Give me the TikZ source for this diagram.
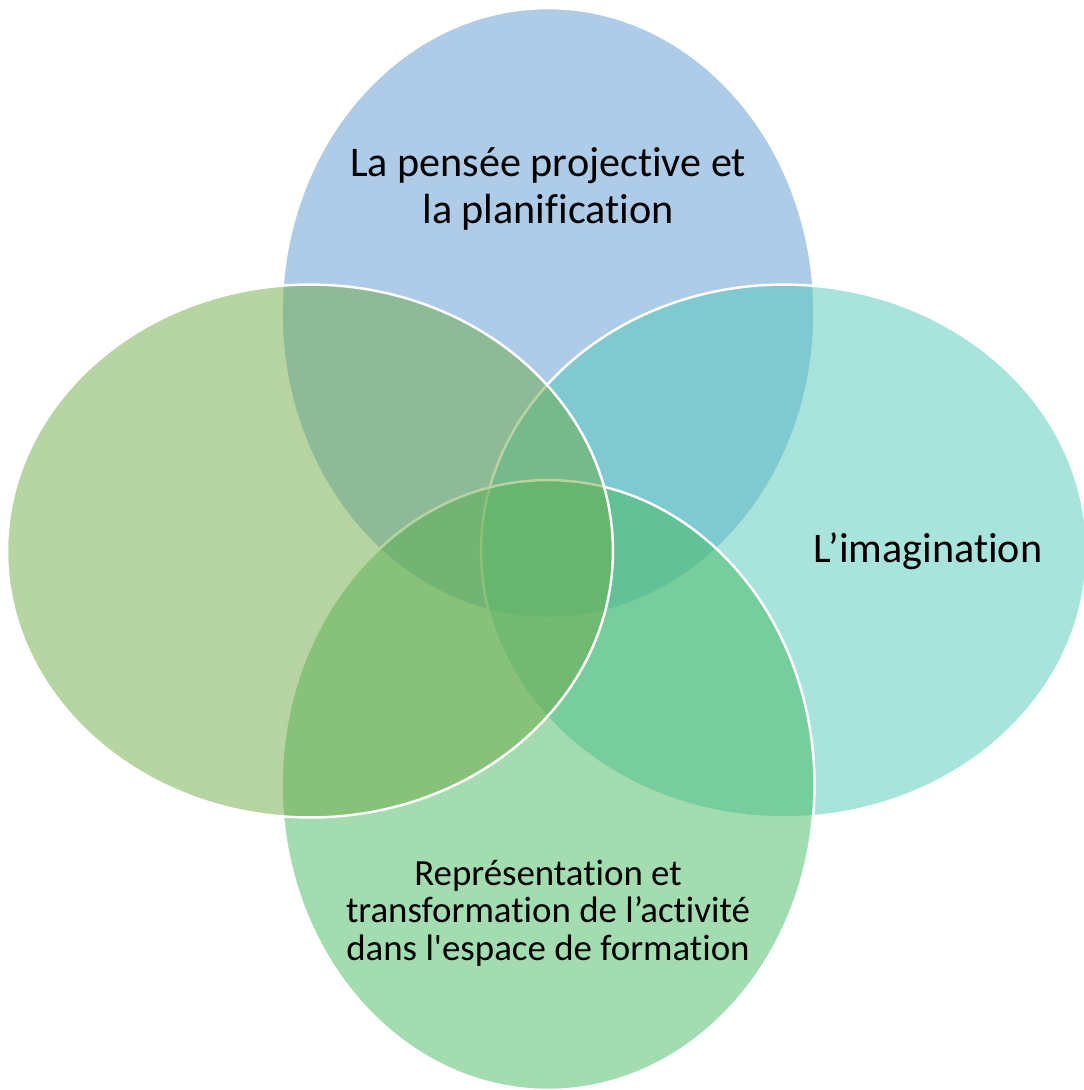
\documentclass[tikz,border=0pt]{standalone}
\usepackage{fontspec}
\setmainfont{Carlito}[Ligatures={NoCommon}]
\usepackage{tikz}
\usetikzlibrary{shapes}

\definecolor{set-blue}{HTML}{5D97D1}
\definecolor{set-teal}{HTML}{51C7B9}
\definecolor{set-green}{HTML}{47B961}
\definecolor{set-olive}{HTML}{6FA947}

\begin{document}
\begin{tikzpicture}[x=0.02cm, y=-0.02cm,
set/.style={ellipse, draw=white, line width=1.4pt, fill opacity=0.5,
    draw opacity=1, inner sep=0pt, outer sep=0pt},
set-tall/.style={set, minimum width=10.66cm, minimum height=12.2cm},
set-wide/.style={set, minimum width=12.12cm, minimum height=10.66cm},
caption/.style={align=center, text=black, font=\fontsize{24}{26.6}\selectfont},
caption-small/.style={caption, font=\fontsize{21}{21.3}\selectfont}
]

\useasboundingbox (0,0) rectangle (1084,1090);

\node [set-tall, fill=set-blue] (set-top) at (548,313) {};
\node [set-wide, fill=set-teal] (set-right) at (784,551) {};
\node [set-tall, fill=set-green] (set-bottom) at (548,785) {};
\node [set-wide, fill=set-olive] (set-left) at (310,551) {};

\node [caption] (top-text) at (548,189) {La pensée projective et\\la planification};
\node [caption, anchor=base] (right-text) at (928,562) {L’imagination};
\node [caption-small] (bottom-text) at (548,913)
    {Représentation et\\transformation de l’activité\\dans l\textquotesingle espace de formation};

\end{tikzpicture}
\end{document}
